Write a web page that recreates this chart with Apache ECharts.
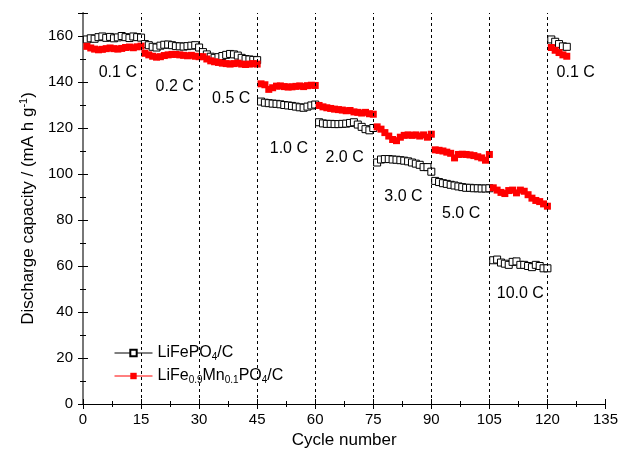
<!DOCTYPE html>
<html>
<head>
<meta charset="utf-8">
<script src="https://cdn.jsdelivr.net/npm/echarts@6/dist/echarts.min.js"></script>
<style>
html, body { margin: 0; padding: 0; background: #fff; }
#main { width: 621px; height: 461px; }
</style>
</head>
<body>
<div id="main"></div>
<script>
var chart = echarts.init(document.getElementById('main'));

// 放电容量 (mA h/g)，每个循环一个点，循环 1-125
var lfp = [
  158.5, 159.0, 158.8, 159.5, 159.8, 159.2, 159.6, 159.0, 159.4, 160.0, 159.5, 159.1, 159.8, 159.5, 159.3,
  156.5, 156.0, 155.3, 155.0, 155.8, 156.2, 156.3, 156.0, 155.6, 155.5, 155.4, 155.6, 155.8, 156.0, 155.0,
  153.0, 152.0, 151.0, 150.5, 150.8, 151.3, 151.8, 152.2, 152.0, 151.5, 150.5, 150.0, 149.8, 149.6, 149.5,
  131.5, 131.0, 130.8, 130.6, 130.5, 130.3, 130.0, 129.8, 129.6, 129.3, 129.0, 128.8, 129.3, 129.8, 130.2,
  122.5, 122.0, 121.8, 121.8, 121.7, 121.7, 121.8, 121.9, 122.2, 122.5, 121.5, 120.5, 119.5, 119.0, 120.0,
  105.0, 106.3, 106.5, 106.5, 106.3, 106.2, 106.0, 105.8, 105.5, 105.0, 104.5, 104.0, 103.0, 103.0, 101.0,
  97.0, 96.5, 96.0, 95.7, 95.3, 95.0, 94.6, 94.3, 94.0, 94.0, 93.8, 93.8, 93.7, 93.7, 93.8,
  62.5, 62.8, 61.5, 61.0, 60.5, 61.8, 62.0, 60.5, 60.5, 60.0, 59.5, 60.5, 60.0, 59.0, 59.0,
  158.5, 157.5, 156.5, 155.5, 155.3
];
var lfmp = [
  155.5, 154.8, 154.3, 154.0, 154.2, 154.5, 154.8, 154.5, 154.3, 154.6, 155.0, 155.2, 154.9, 155.3, 155.6,
  152.5, 151.8, 151.2, 150.8, 151.0, 151.5, 151.8, 152.0, 152.0, 151.8, 151.6, 151.4, 151.6, 151.2, 151.0,
  151.0, 150.0, 149.2, 148.8, 148.5, 148.2, 148.0, 147.8, 148.0, 148.2, 147.8, 147.6, 147.8, 148.0, 147.8,
  139.2, 138.8, 136.8, 137.5, 138.2, 138.3, 138.0, 137.8, 137.9, 138.1, 138.3, 138.0, 138.4, 138.6, 138.5,
  129.8, 129.2, 128.8, 128.5, 128.2, 128.0, 127.8, 127.5, 127.6, 127.0, 126.8, 126.5, 126.8, 126.2, 126.0,
  120.5, 119.5, 118.0, 116.5, 115.0, 114.5, 116.0, 116.8, 117.0, 116.8, 117.0, 116.5, 117.0, 116.0, 117.3,
  110.5, 110.3, 110.0, 109.5, 109.0, 107.0, 108.5, 108.6, 108.5, 108.3, 108.0, 107.5, 107.0, 106.0, 108.5,
  94.0, 93.0, 92.0, 91.5, 92.8, 93.0, 91.8, 93.0, 92.5, 91.0, 89.5, 88.5, 88.0, 87.0, 86.0,
  155.0, 153.8, 152.8, 151.8, 151.2
];
// 倍率切换处的虚线
var rateBreaks = [15, 30, 45, 60, 75, 90, 105, 120];
// 倍率标注 [cycle, capacity, text]
var rateLabels = [
  [9, 144, '0.1 C'], [23.7, 138, '0.2 C'], [38.3, 133, '0.5 C'],
  [53.2, 111, '1.0 C'], [67.6, 107, '2.0 C'], [82.8, 90, '3.0 C'],
  [97.7, 83, '5.0 C'], [113, 48, '10.0 C'], [127.3, 144, '0.1 C']
];

function toPairs(arr) {
  return arr.map(function (v, i) { return [i + 1, v]; });
}

var font = 'Liberation Sans, Arial, sans-serif';
var subRich = {
  sub: { fontSize: 10, verticalAlign: 'bottom', padding: [8, 0, 0, 0], fontFamily: font, color: '#000' },
  sup: { fontSize: 11, verticalAlign: 'top', padding: [0, 0, 10, 0], fontFamily: font, color: '#000' }
};

var axisCommon = {
  min: 0,
  axisLine: { show: true, lineStyle: { color: '#000', width: 1 } },
  axisTick: { show: true, inside: true, length: 5, lineStyle: { color: '#000' } },
  minorTick: { show: true, splitNumber: 2, length: 3, lineStyle: { color: '#000' } },
  splitLine: { show: false }
};

var option = {
  backgroundColor: '#fff',
  textStyle: { fontFamily: font },
  grid: { left: 83, right: 13, top: 13, bottom: 57 },
  legend: {
    orient: 'vertical',
    left: 110,
    top: 343,
    itemWidth: 38,
    itemHeight: 8,
    itemGap: 6,
    backgroundColor: '#fff',
    padding: [2, 4, 2, 4],
    textStyle: { fontSize: 16, color: '#000', fontFamily: font, rich: subRich },
    formatter: function (name) {
      return name === 'LiFePO4/C' ? 'LiFePO{sub|4}/C' : 'LiFe{sub|0.9}Mn{sub|0.1}PO{sub|4}/C';
    },
    data: [
      { name: 'LiFePO4/C', lineStyle: { width: 1, color: '#000', opacity: 1 } },
      { name: 'LiFe0.9Mn0.1PO4/C', lineStyle: { width: 1, color: '#f00', opacity: 1 } }
    ]
  },
  xAxis: [
    Object.assign({}, axisCommon, {
      type: 'value', max: 135, interval: 15,
      name: 'Cycle number', nameLocation: 'middle', nameGap: 28,
      nameTextStyle: { fontSize: 17, color: '#000', fontFamily: font },
      axisLabel: { fontSize: 15, color: '#000', margin: 8, fontFamily: font }
    }),
    Object.assign({}, axisCommon, {
      type: 'value', max: 135, interval: 15, position: 'top',
      axisLabel: { show: false }
    })
  ],
  yAxis: [
    Object.assign({}, axisCommon, {
      type: 'value', max: 170, interval: 20,
      name: 'Discharge capacity / (mA h g{sup|-1})', nameLocation: 'middle', nameGap: 40,
      nameRotate: 90,
      nameTextStyle: { fontSize: 17, color: '#000', fontFamily: font, rich: subRich },
      axisLabel: { fontSize: 15, color: '#000', margin: 10, fontFamily: font, showMaxLabel: false }
    }),
    Object.assign({}, axisCommon, {
      type: 'value', max: 170, interval: 20, position: 'right',
      axisLine: { show: true, lineStyle: { color: '#777', width: 2 } },
      axisLabel: { show: false }
    })
  ],
  series: [
    {
      name: 'LiFePO4/C',
      type: 'line',
      data: toPairs(lfp),
      symbol: 'rect',
      symbolSize: 7,
      lineStyle: { width: 0, opacity: 0 },
      itemStyle: { color: '#fff', borderColor: '#000', borderWidth: 1 },
      z: 3,
      markLine: {
        silent: true,
        symbol: 'none',
        label: { show: false },
        lineStyle: { type: [3, 3], color: '#000', width: 1 },
        data: rateBreaks.map(function (x) { return { xAxis: x }; })
      }
    },
    {
      name: 'LiFe0.9Mn0.1PO4/C',
      type: 'line',
      data: toPairs(lfmp),
      symbol: 'rect',
      symbolSize: 7,
      lineStyle: { width: 0, opacity: 0 },
      itemStyle: { color: '#f00', borderColor: '#f00', borderWidth: 0 },
      z: 4
    },
    {
      name: 'rates',
      type: 'scatter',
      symbolSize: 0,
      itemStyle: { color: '#000', opacity: 1 },
      data: rateLabels.map(function (r) { return { value: [r[0], r[1]], name: r[2] }; }),
      label: {
        show: true, position: 'inside', formatter: '{b}',
        fontSize: 16, color: '#000', fontFamily: font,
        textBorderWidth: 0, opacity: 1
      },
      z: 5
    }
  ]
};
chart.setOption(option);
</script>
</body>
</html>
